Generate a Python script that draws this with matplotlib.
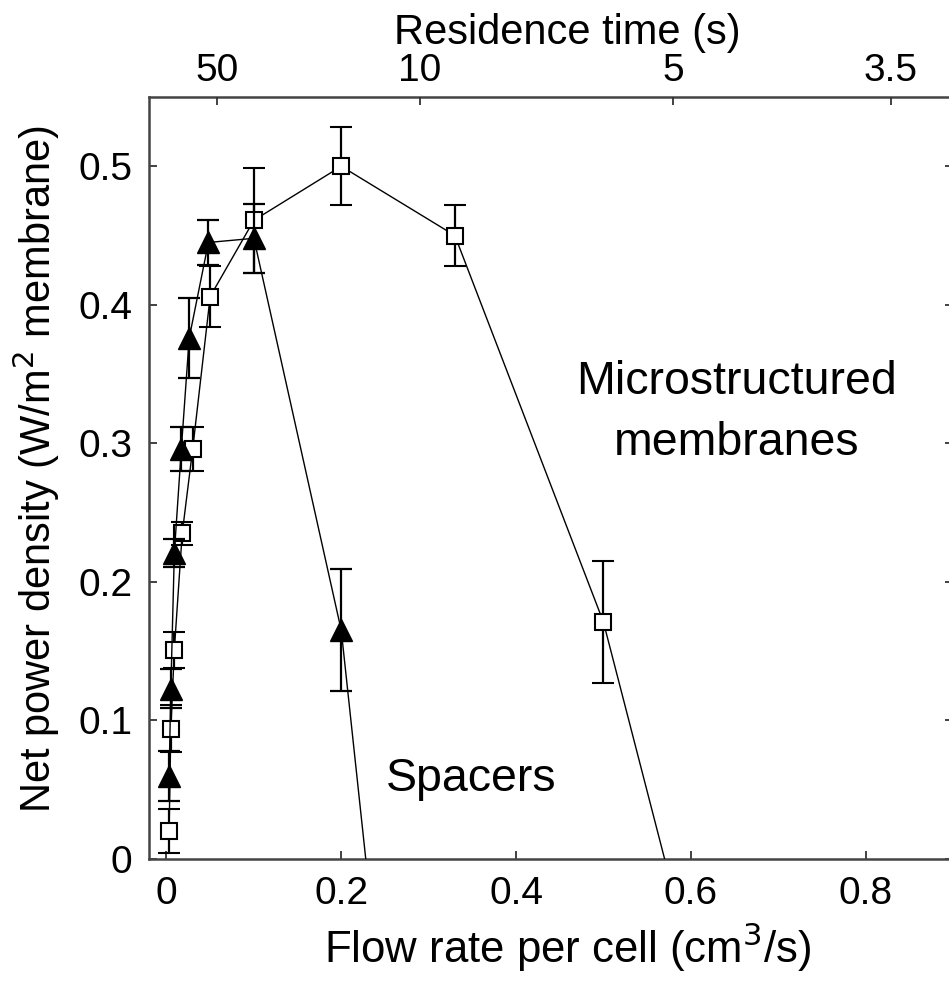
import numpy as np
import matplotlib.pyplot as plt

plt.rcParams['font.family'] = ['Liberation Sans', 'DejaVu Sans']

# flow rate per cell (cm3/s) and net power density (W/m2), +/- error
# last point of each series falls below zero (outside the plotted range)
q_micro = [0.003, 0.005, 0.009, 0.018, 0.030, 0.050, 0.100, 0.200, 0.330, 0.500, 1.000]
p_micro = [0.020, 0.094, 0.151, 0.235, 0.296, 0.406, 0.461, 0.500, 0.450, 0.171, -1.05]
e_micro = [0.016, 0.017, 0.013, 0.008, 0.016, 0.022, 0.038, 0.028, 0.022, 0.044, np.nan]

q_spacer = [0.003, 0.005, 0.009, 0.017, 0.026, 0.048, 0.100, 0.200, 0.330]
p_spacer = [0.060, 0.123, 0.221, 0.296, 0.376, 0.445, 0.448, 0.165, -0.600]
e_spacer = [0.018, 0.014, 0.010, 0.016, 0.029, 0.016, 0.025, 0.044, np.nan]

# residence time axis: t = cell volume / flow rate
cell_volume = 2.9
res_ticks = [50, 10, 5, 3.5]
res_labels = ['50', '10', '5', '3.5']

fig = plt.figure(figsize=(9.49, 9.82), dpi=100)
ax = fig.add_axes([149/949, 123/982, (953-149)/949, (859-97)/982])

ax.errorbar(q_micro, p_micro, yerr=e_micro, color='k', lw=1.0,
            marker='s', ms=11, mfc='white', mec='k', mew=1.5,
            elinewidth=1.6, capsize=8, capthick=1.6, zorder=3)
ax.errorbar(q_spacer, p_spacer, yerr=e_spacer, color='k', lw=1.0,
            marker='^', ms=16, mfc='k', mec='k',
            elinewidth=1.6, capsize=8, capthick=1.6, zorder=4)

ax.set_xlim(-0.02, 0.9)
ax.set_ylim(0, 0.55)
ax.set_xticks([0, 0.2, 0.4, 0.6, 0.8])
ax.set_xticklabels(['0', '0.2', '0.4', '0.6', '0.8'])
ax.set_yticks([0, 0.1, 0.2, 0.3, 0.4, 0.5])
ax.set_yticklabels(['0', '0.1', '0.2', '0.3', '0.4', '0.5'])
ax.tick_params(direction='in', length=6, width=1.3, right=True, top=False,
               labelsize=28, pad=12, colors='#333333', labelcolor='k')
for s in ax.spines.values():
    s.set_color('#444444')
    s.set_linewidth(1.8)

ax.set_xlabel('Flow rate per cell (cm$^3$/s)', fontsize=31.5, labelpad=6)
ax.xaxis.label.set_x(0.52)
ax.set_ylabel('Net power density (W/m$^2$ membrane)', fontsize=30, labelpad=12)
ax.yaxis.label.set_y(0.512)

# top axis with residence time
ax2 = ax.twiny()
ax2.set_xlim(ax.get_xlim())
ax2.set_xticks([cell_volume / t for t in res_ticks])
ax2.set_xticklabels(res_labels)
ax2.tick_params(direction='in', length=6, width=1.3, labelsize=28, pad=6,
                colors='#333333', labelcolor='k')
ax2.set_xlabel('Residence time (s)', fontsize=30, labelpad=6)
ax2.xaxis.label.set_x(0.52)
for s in ax2.spines.values():
    s.set_visible(False)

ax.text(0.652, 0.322, 'Microstructured\nmembranes', fontsize=33.5,
        ha='center', va='center', linespacing=1.5)
ax.text(0.349, 0.058, 'Spacers', fontsize=33.5, ha='center', va='center')

fig.savefig('out.png', dpi=100)
